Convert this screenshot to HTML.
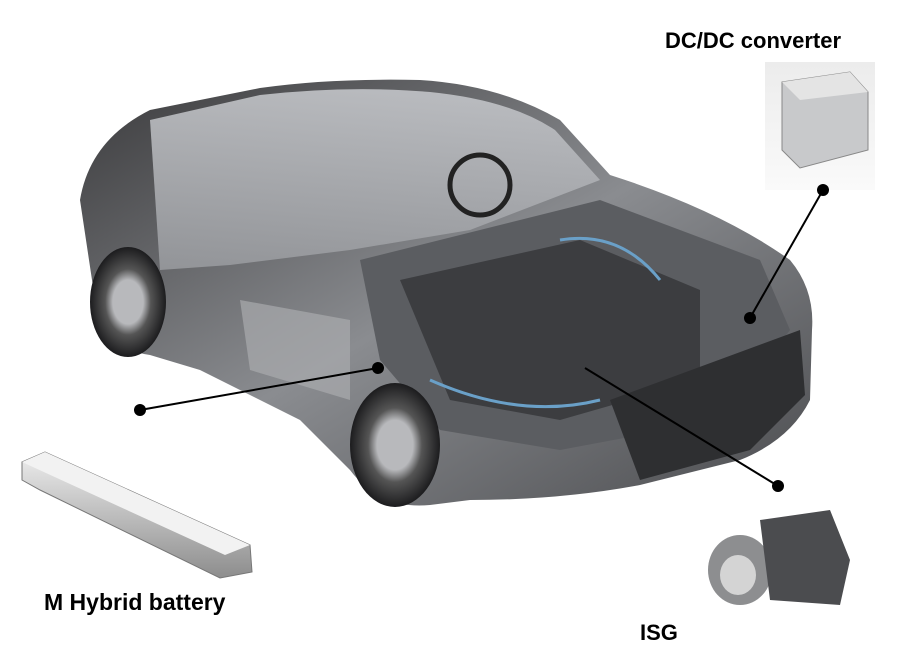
<!DOCTYPE html>
<html><head><meta charset="utf-8"><style>
html,body{margin:0;padding:0;background:#fff;width:911px;height:667px;overflow:hidden}
svg{display:block}
text{font-family:"Liberation Sans",sans-serif;font-weight:bold;fill:#000}
</style></head><body>
<svg width="911" height="667" viewBox="0 0 911 667" xmlns="http://www.w3.org/2000/svg">
<defs>
<linearGradient id="body" x1="0" y1="0" x2="1" y2="1">
<stop offset="0" stop-color="#3a3a3c"/><stop offset="0.5" stop-color="#8a8c90"/><stop offset="1" stop-color="#4a4b4e"/>
</linearGradient>
<linearGradient id="glass" x1="0" y1="0" x2="0" y2="1">
<stop offset="0" stop-color="#c9cbcf"/><stop offset="1" stop-color="#9a9ca0"/>
</linearGradient>
<linearGradient id="bat" x1="0" y1="0" x2="0" y2="1">
<stop offset="0" stop-color="#eeeeee"/><stop offset="1" stop-color="#8d8d8d"/>
</linearGradient>
<radialGradient id="wheel"><stop offset="0.4" stop-color="#b8b9bc"/><stop offset="0.6" stop-color="#555"/><stop offset="1" stop-color="#1c1c1e"/></radialGradient>
<linearGradient id="dcbg" x1="0" y1="0" x2="0" y2="1"><stop offset="0" stop-color="#ececec"/><stop offset="1" stop-color="#fafafa"/></linearGradient>
</defs>
<path d="M80,200 Q90,140 150,110 L260,88 Q330,78 420,80 Q500,85 560,120 L610,175 Q720,210 790,260 Q815,290 812,330 L810,400 Q790,440 740,460 L640,485 Q560,500 470,500 L430,505 Q380,510 350,470 L300,420 L200,370 L150,355 Q110,350 95,300 Z" fill="url(#body)"/>
<path d="M150,120 L260,95 Q350,85 430,92 Q510,100 555,130 L600,180 L470,230 L350,250 L230,265 L160,270 Z" fill="url(#glass)" opacity="0.85"/>
<path d="M360,260 L600,200 L760,260 L790,330 L720,420 L560,450 L440,430 L380,360 Z" fill="#5b5d61"/>
<path d="M400,280 L580,240 L700,290 L700,380 L560,420 L450,400 Z" fill="#3c3d40"/>
<path d="M430,380 Q520,420 600,400" stroke="#6aa0c8" stroke-width="3" fill="none"/>
<path d="M560,240 Q620,230 660,280" stroke="#6aa0c8" stroke-width="3" fill="none"/>
<path d="M240,300 L350,320 L350,400 L250,370 Z" fill="#a9abae" opacity="0.7"/>
<path d="M610,400 L800,330 L805,395 L750,450 L640,480 Z" fill="#2e2f31"/>
<circle cx="480" cy="185" r="30" fill="none" stroke="#222" stroke-width="5"/>
<ellipse cx="128" cy="302" rx="38" ry="55" fill="url(#wheel)"/>
<ellipse cx="395" cy="445" rx="45" ry="62" fill="url(#wheel)"/>
<rect x="765" y="62" width="110" height="128" fill="url(#dcbg)"/>
<path d="M782,82 L850,72 L868,92 L868,150 L800,168 L782,150 Z" fill="#c8c9cb" stroke="#888" stroke-width="1"/>
<path d="M782,82 L850,72 L868,92 L800,100 Z" fill="#e4e4e4"/>
<path d="M22,462 L45,452 L250,545 L252,572 L220,578 L40,490 L22,480 Z" fill="url(#bat)" stroke="#777" stroke-width="1"/>
<path d="M22,462 L45,452 L250,545 L225,555 Z" fill="#f2f2f2"/>
<ellipse cx="740" cy="570" rx="32" ry="35" fill="#8d8e90"/>
<ellipse cx="738" cy="575" rx="18" ry="20" fill="#d4d4d4"/>
<path d="M760,520 L830,510 L850,560 L840,605 L770,600 Z" fill="#4b4c4f"/>
<g stroke="#000" stroke-width="2">
<line x1="823" y1="190" x2="750" y2="318"/>
<line x1="140" y1="410" x2="378" y2="368"/>
<line x1="778" y1="486" x2="585" y2="368"/>
</g>
<g fill="#000">
<circle cx="823" cy="190" r="6"/><circle cx="750" cy="318" r="6"/>
<circle cx="140" cy="410" r="6"/><circle cx="378" cy="368" r="6"/>
<circle cx="778" cy="486" r="6"/>
</g>
<text x="665" y="48" font-size="22">DC/DC converter</text>
<text x="44" y="610" font-size="23">M Hybrid battery</text>
<text x="640" y="640" font-size="22">ISG</text>
</svg>
</body></html>
